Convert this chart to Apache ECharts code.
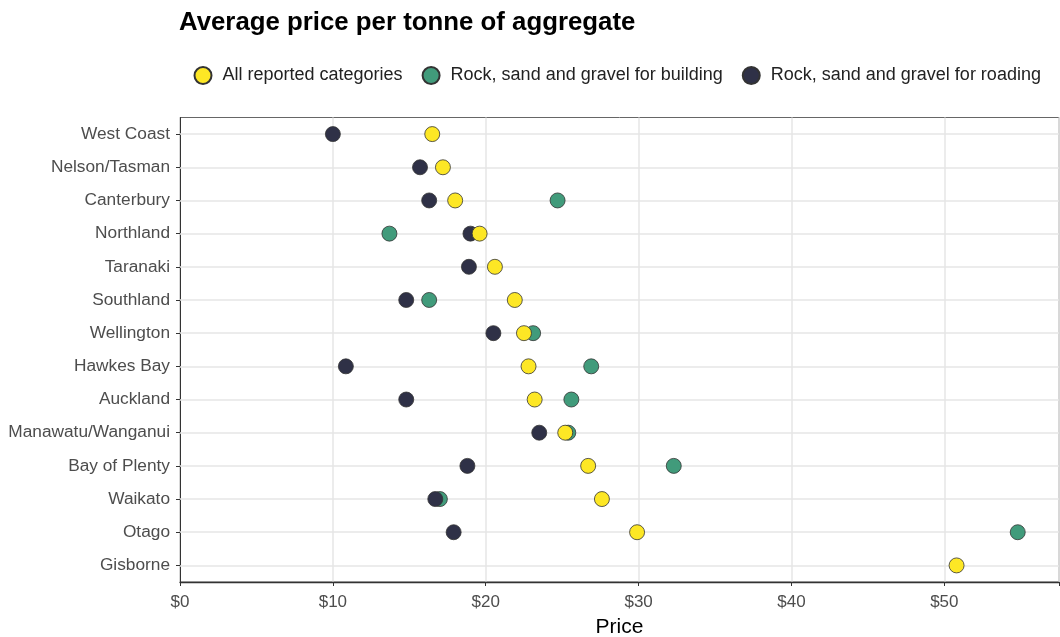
<!DOCTYPE html>
<html><head><meta charset="utf-8">
<script src="https://cdn.jsdelivr.net/npm/echarts@6/dist/echarts.min.js"></script>
<style>html,body{margin:0;padding:0;background:#fff;overflow:hidden}#c{width:1060px;height:637px}</style>
</head><body><div id="c"></div>
<script>
const regions = ["West Coast","Nelson/Tasman","Canterbury","Northland","Taranaki","Southland","Wellington","Hawkes Bay","Auckland","Manawatu/Wanganui","Bay of Plenty","Waikato","Otago","Gisborne"];
const allCategories = [16.5,17.2,18.0,19.6,20.6,21.9,22.5,22.8,23.2,25.2,26.7,27.6,29.9,50.8];
const building = [null,null,24.7,13.7,null,16.3,23.1,26.9,25.6,25.4,32.3,17.0,54.8,null];
const roading = [10.0,15.7,16.3,19.0,18.9,14.8,20.5,10.85,14.8,23.5,18.8,16.7,17.9,null];
const xTicks = [0,10,20,30,40,50];
const seriesNames = ["All reported categories","Rock, sand and gravel for building","Rock, sand and gravel for roading"];
const colors = {all:"#FDE725", building:"#419B7B", roading:"#2F3147"};

function pts(arr){ return arr.map((v,i)=> v==null ? null : [v, regions[i]]).filter(d=>d); }
const font = "Liberation Sans, Arial, sans-serif";
const chart = echarts.init(document.getElementById('c'));
function sc(name, data, color){
  return {name, type:'scatter', data:pts(data), symbolSize:15, z:5,
    itemStyle:{color, borderColor:'#333', borderWidth:0.8, opacity:1}};
}
chart.setOption({
  animation:false,
  title:{text:"Average price per tonne of aggregate", left:174, top:5,
    textStyle:{fontFamily:font, fontSize:25.8, fontWeight:'bold', color:'#000'}},
  legend:{top:61, left:188.5, itemWidth:17, itemHeight:17, itemGap:19,
    data:seriesNames.map(n=>({name:n, icon:'circle'})),
    textStyle:{fontFamily:font, fontSize:18, color:'#222', padding:[0,0,0,6]}},
  grid:{left:180, right:1, top:117.5, bottom:55, show:true, borderColor:'#666', borderWidth:1,
    outerBoundsMode:'none', containLabel:false},
  xAxis:{type:'value', min:0, max:57.5, interval:10, name:'Price', nameLocation:'middle', nameGap:35,
    nameTextStyle:{fontFamily:font, fontSize:21, color:'#000'},
    axisLine:{show:true, lineStyle:{color:'#333', width:1.3}}, axisTick:{show:true, length:4, lineStyle:{color:'#333'}},
    axisLabel:{fontFamily:font, fontSize:17, color:'#4d4d4d', margin:12,
      formatter:v=> xTicks.includes(v) ? '$'+v : ''},
    splitLine:{show:true, lineStyle:{color:'#e6e6e6', width:1.5}}},
  yAxis:{type:'category', data:regions, inverse:true, boundaryGap:true,
    axisLine:{show:true, lineStyle:{color:'#333'}},
    axisTick:{show:true, alignWithLabel:true, length:4, lineStyle:{color:'#333'}},
    axisLabel:{fontFamily:font, fontSize:17.3, color:'#4d4d4d', margin:10},
    splitLine:{show:false}},
  series:[
    sc(seriesNames[1], building, colors.building),
    sc(seriesNames[2], roading, colors.roading),
    sc(seriesNames[0], allCategories, colors.all),
    {type:'line', data:regions.map(r=>[0,r]), silent:true, symbol:'none', lineStyle:{opacity:0}, z:1,
     markLine:{silent:true, symbol:'none', z:1, label:{show:false},
       lineStyle:{color:'#e6e6e6', width:1.5, type:'solid'},
       data:regions.map(r=>({yAxis:r}))}}
  ]
});
</script></body></html>
